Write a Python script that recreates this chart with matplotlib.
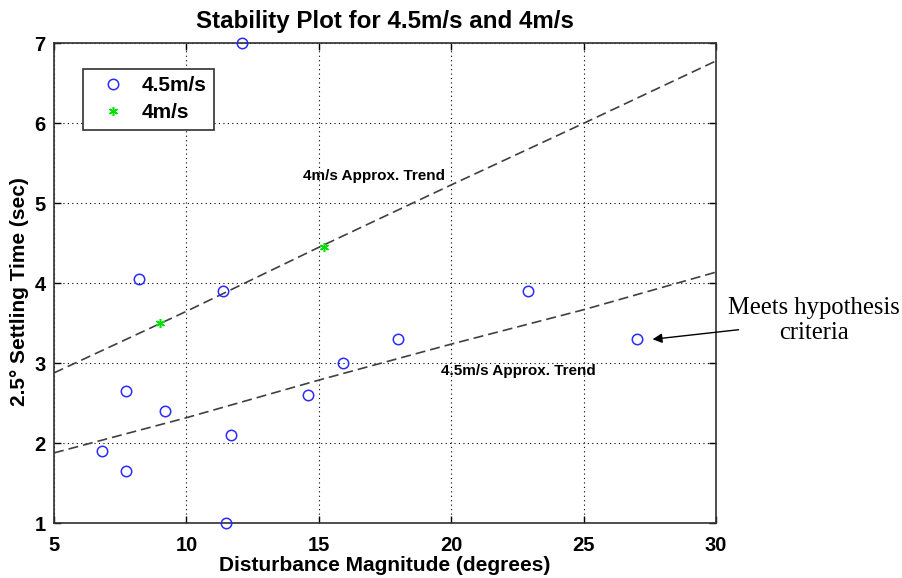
import numpy as np
import matplotlib
matplotlib.use("Agg")
import matplotlib.pyplot as plt

# data
x_45 = [12.1, 8.2, 11.4, 7.7, 9.2, 14.6, 11.7, 6.8, 7.7, 11.5, 15.9, 18.0, 22.9, 27.0]
y_45 = [7.0, 4.05, 3.9, 2.65, 2.4, 2.6, 2.1, 1.9, 1.65, 1.0, 3.0, 3.3, 3.9, 3.3]
x_4 = [9.0, 15.2]
y_4 = [3.5, 4.45]

# approximate trend curves
trend_x = [5, 10, 15, 20, 25, 30]
trend_4 = [2.88, 3.65, 4.45, 5.23, 6.0, 6.78]
trend_45 = [1.88, 2.32, 2.79, 3.24, 3.67, 4.14]

plt.rcParams['font.family'] = ['Liberation Sans', 'DejaVu Sans']

fig = plt.figure(figsize=(9.03, 5.78), dpi=100)
ax = fig.add_axes([0.0598, 0.0946, 0.7332, 0.8305])

ax.plot(trend_x, trend_4, linestyle=(0, (6, 3)), color='#404040', lw=1.2)
ax.plot(trend_x, trend_45, linestyle=(0, (6, 3)), color='#404040', lw=1.2)

ax.plot(x_45, y_45, 'o', mfc='none', mec='#2b2bff', mew=1.1, ms=7.5,
        label='4.5m/s', clip_on=False, zorder=5)
ax.plot(x_4, y_4, marker=(6, 2, 0), ls='none', color='#00e000', mew=1.1, ms=6.5,
        label='4m/s', zorder=5)

ax.set_xlim(5, 30)
ax.set_ylim(1, 7)
ax.set_xticks([5, 10, 15, 20, 25, 30])
ax.set_yticks([1, 2, 3, 4, 5, 6, 7])
ax.grid(True, linestyle=(0, (1, 3)), color='black', lw=0.8)
ax.tick_params(direction='in', top=True, right=True, length=5, width=1,
               labelsize=14.5)
ax.tick_params(axis='x', pad=9)
ax.tick_params(axis='y', pad=6)
for lab in ax.get_xticklabels() + ax.get_yticklabels():
    lab.set_fontweight('bold')
for sp in ax.spines.values():
    sp.set_color('#303030')
    sp.set_linewidth(1.2)

ax.set_title('Stability Plot for 4.5m/s and 4m/s', fontsize=17.4,
             fontweight='bold', pad=11)
ax.set_xlabel('Disturbance Magnitude (degrees)', fontsize=15,
              fontweight='bold', labelpad=1)
ax.set_ylabel('2.5\u00b0 Settling Time (sec)', fontsize=15,
              fontweight='bold', labelpad=4, y=0.482)

ax.text(14.4, 5.34, '4m/s Approx. Trend', fontsize=11, fontweight='bold',
        va='center', ha='left')
ax.text(19.6, 2.9, '4.5m/s Approx. Trend', fontsize=11, fontweight='bold',
        va='center', ha='left')

leg = ax.legend(loc='upper left', bbox_to_anchor=(0.044, 0.947),
                prop={'weight': 'bold', 'size': 15}, fancybox=False,
                edgecolor='#303030', framealpha=1, borderpad=0.35,
                handlelength=2.2, handletextpad=0.25, labelspacing=0.4,
                borderaxespad=0)
leg.get_frame().set_linewidth(1.2)

ax.annotate('', xy=(27.6, 3.30), xytext=(30.85, 3.42),
            arrowprops=dict(arrowstyle='-|>', color='black', lw=1,
                            mutation_scale=14, shrinkA=0, shrinkB=0),
            annotation_clip=False)
fig.text(0.901, 0.446, 'Meets hypothesis\ncriteria', ha='center', va='center',
         fontsize=17.7, family=['Liberation Serif', 'DejaVu Serif'],
         linespacing=1.2)

fig.savefig('out.png', dpi=100)
